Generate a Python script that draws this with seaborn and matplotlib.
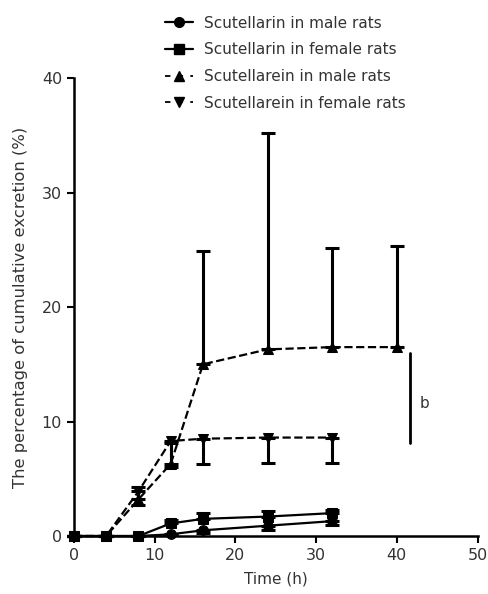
import matplotlib
matplotlib.use("Agg")
import matplotlib.pyplot as plt
from matplotlib.lines import Line2D
import seaborn as sns
import numpy as np
import pandas as pd

# ---- data ----
t_full = [0, 4, 8, 12, 16, 24, 32]
t_male_sc = [0, 4, 8, 12, 16, 24, 32, 40]
scutellarin_male = [0, 0, 0, 0.15, 0.5, 0.9, 1.3]
scutellarin_male_err_lo = [0, 0, 0, 0.1, 0.2, 0.4, 0.3]
scutellarin_female = [0, 0, 0, 1.1, 1.5, 1.7, 2.0]
scutellarin_female_err_hi = [0, 0, 0, 0.3, 0.5, 0.5, 0.3]
scutellarein_male = [0, 0, 3.2, 6.3, 15.0, 16.3, 16.5, 16.5]
scutellarein_male_err_hi = [0, 0, 1.1, 1.8, 9.9, 18.9, 8.7, 8.8]
scutellarein_female = [0, 0, 3.9, 8.3, 8.5, 8.6, 8.6]
scutellarein_female_err_lo = [0, 0, 1.2, 2.3, 2.2, 2.2, 2.2]
labels = ["Scutellarin in male rats", "Scutellarin in female rats",
          "Scutellarein in male rats", "Scutellarein in female rats"]
sig_label = "b"
sig_x = 41.6
sig_range = [8.1, 16.0]

TXT = "#333333"
sns.set_theme(style="ticks")
plt.rcParams['font.family'] = ['DejaVu Sans']

fig = plt.figure(figsize=(4.89, 5.94), dpi=100)
ax = fig.add_axes([0.151, 0.0976, 0.8255, 0.771])

series = [
    (t_full, scutellarin_male, "o", "-", np.zeros(7), scutellarin_male_err_lo, labels[0], True),
    (t_full, scutellarin_female, "s", "-", scutellarin_female_err_hi, np.zeros(7), labels[1], True),
    (t_male_sc, scutellarein_male, "^", "--", scutellarein_male_err_hi, np.zeros(8), labels[2], False),
    (t_full, scutellarein_female, "v", "--", np.zeros(7), scutellarein_female_err_lo, labels[3], False),
]

handles = []
for x, y, m, ls, ehi, elo, lab, solid in series:
    df = pd.DataFrame({"x": x, "y": y})
    sns.lineplot(data=df, x="x", y="y", ax=ax, color="black", marker=m,
                 markersize=7, markeredgecolor="black", linestyle=ls,
                 linewidth=1.6, clip_on=False, zorder=3)
    ax.errorbar(x, y, yerr=[elo, ehi], fmt="none", ecolor="black",
                elinewidth=2.2, capsize=5, capthick=2.2, clip_on=False, zorder=4)
    handles.append(Line2D([], [], color="black", marker=m, markersize=7,
                          linestyle=ls, linewidth=1.6 if solid else 1.3,
                          dashes=(3, 4) if not solid else (None, None)))

# significance bar
ax.plot([sig_x, sig_x], sig_range, color="black", linewidth=2, clip_on=False)
ax.text(sig_x + 1.2, np.mean(sig_range) - 0.5, sig_label, fontsize=11,
        va="center", ha="left", color=TXT)

ax.set_xlim(0, 50)
ax.set_ylim(0, 40)
ax.set_xticks([0, 10, 20, 30, 40, 50])
ax.set_yticks([0, 10, 20, 30, 40])
ax.set_xlabel("Time (h)", fontsize=11, color=TXT, labelpad=6)
ax.set_ylabel("The percentage of cumulative excretion (%)", fontsize=11.8,
              color=TXT, labelpad=10)
ax.tick_params(axis="both", labelsize=11.5, width=1.5, length=5,
               direction="out", color="black", labelcolor=TXT)
for s in ["top", "right"]:
    ax.spines[s].set_visible(False)
for s in ["left", "bottom"]:
    ax.spines[s].set_linewidth(1.8)
    ax.spines[s].set_color("black")

leg = fig.legend(handles=handles, labels=labels, loc="upper left",
                 bbox_to_anchor=(0.31, 0.9966), frameon=False, fontsize=11,
                 handlelength=1.8, handletextpad=0.7, labelspacing=0.76)
for t in leg.get_texts():
    t.set_color(TXT)

fig.savefig("out.png", dpi=100)
